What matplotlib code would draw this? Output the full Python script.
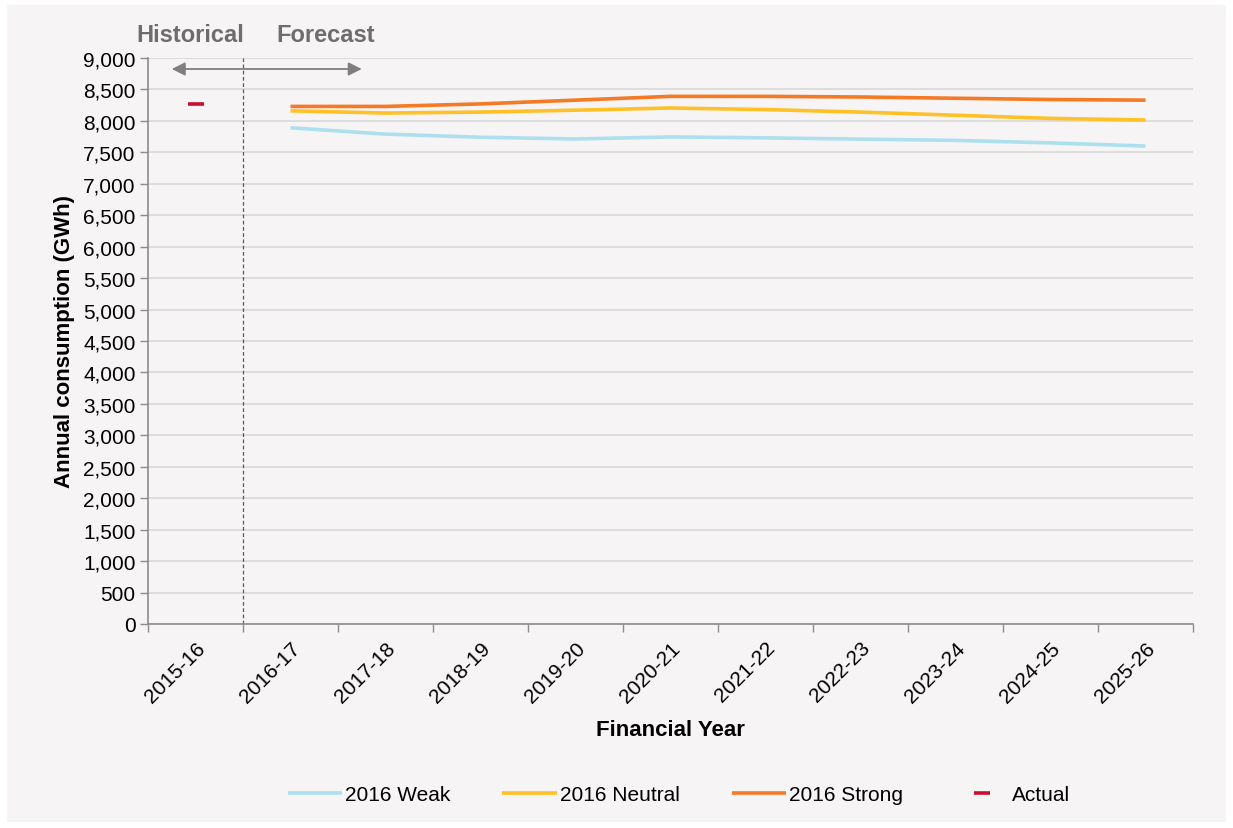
"""
Annual consumption forecast chart
"""

import matplotlib
matplotlib.use('Agg')
import matplotlib.pyplot as plt
import matplotlib.transforms as mtransforms
from matplotlib.patches import Rectangle

# ============================================================================
# DATA
# ============================================================================

years = ['2015-16', '2016-17', '2017-18', '2018-19', '2019-20', '2020-21',
         '2021-22', '2022-23', '2023-24', '2024-25', '2025-26']

# forecast series start at 2016-17
weak = [7890, 7790, 7740, 7712, 7745, 7730, 7710, 7690, 7650, 7600]
neutral = [8160, 8125, 8140, 8170, 8205, 8180, 8140, 8090, 8040, 8014]
strong = [8230, 8230, 8270, 8330, 8390, 8390, 8380, 8360, 8340, 8330]
actual = [8265]

BG = '#f6f4f5'
GREY_TXT = '#6d6d6d'

plt.rcParams['font.family'] = ['Liberation Sans', 'DejaVu Sans']

# ============================================================================
# PLOT
# ============================================================================

fig = plt.figure(figsize=(12.33, 8.29), dpi=100, facecolor='white')
fig.patches.append(Rectangle((7 / 1233, 6 / 829), 1 - 14 / 1233, 1 - 12 / 829,
                             transform=fig.transFigure, facecolor=BG,
                             edgecolor='none', zorder=-10))

ax = fig.add_axes([148 / 1233, 1 - 625 / 829, (1193 - 148) / 1233, (625 - 59) / 829])
ax.set_facecolor(BG)

x_all = list(range(len(years)))
x_fc = x_all[1:]

ax.plot(x_fc, weak, color='#ade0ee', lw=2.6, solid_capstyle='butt', label='2016 Weak')
ax.plot(x_fc, neutral, color='#ffc125', lw=2.6, solid_capstyle='butt', label='2016 Neutral')
ax.plot(x_fc, strong, color='#f47a25', lw=2.6, solid_capstyle='butt', label='2016 Strong')
ax.plot(x_all[:1], actual, linestyle='none', marker='_', markersize=11,
        markeredgewidth=2.6, color='#c8102e', label='Actual')

# axes
ax.set_xlim(-0.5, len(years) - 0.5)
ax.set_ylim(0, 9000)
ax.set_yticks(range(0, 9001, 500))
ax.set_yticklabels([f'{v:,}' for v in range(0, 9001, 500)], fontsize=15)
ax.yaxis.grid(True, color='#d9d9d9', lw=1.2)
ax.set_axisbelow(True)

ax.set_xticks([i - 0.5 for i in range(len(years) + 1)])
ax.set_xticklabels([])
ax.set_xticks(x_all, minor=True)
ax.set_xticklabels(years, minor=True, rotation=45, ha='right',
                   rotation_mode='anchor', fontsize=15)
ax.tick_params(axis='x', which='major', length=6, color='#8c8c8c', width=1)
ax.tick_params(axis='x', which='minor', length=0, pad=10)
ax.tick_params(axis='y', length=6, color='#8c8c8c', width=1, pad=3)

for s in ['top', 'right']:
    ax.spines[s].set_visible(False)
for s in ['left', 'bottom']:
    ax.spines[s].set_color('#8c8c8c')
    ax.spines[s].set_linewidth(1.2)

ax.set_ylabel('Annual consumption (GWh)', fontsize=16, fontweight='bold', labelpad=6)
ax.set_xlabel('Financial Year', fontsize=16, fontweight='bold', labelpad=10)

# historical / forecast divider
ax.axvline(0.5, color='#595959', lw=0.9, linestyle=(0, (3, 2)))
trans = mtransforms.blended_transform_factory(ax.transData, fig.transFigure)
ax.annotate('', xy=(-0.25, 1 - 70 / 829), xytext=(1.75, 1 - 70 / 829),
            xycoords=trans, textcoords=trans,
            arrowprops=dict(arrowstyle='<|-|>', color='#7f7f7f', lw=1.3,
                            mutation_scale=20, shrinkA=0, shrinkB=0))
fig.text(190 / 1233, 1 - 35 / 829, 'Historical', ha='center', va='center',
         fontsize=17, fontweight='bold', color=GREY_TXT)
fig.text(326 / 1233, 1 - 35 / 829, 'Forecast', ha='center', va='center',
         fontsize=17, fontweight='bold', color=GREY_TXT)

# legend
handles, labels = ax.get_legend_handles_labels()
leg = fig.legend(handles, labels, loc='center', bbox_to_anchor=(679 / 1233, 1 - 796 / 829),
                 ncol=4, frameon=False, fontsize=15, handlelength=2.6,
                 columnspacing=2.5, handletextpad=0.15)

plt.savefig('out.png', dpi=100, facecolor='white')
plt.close()
